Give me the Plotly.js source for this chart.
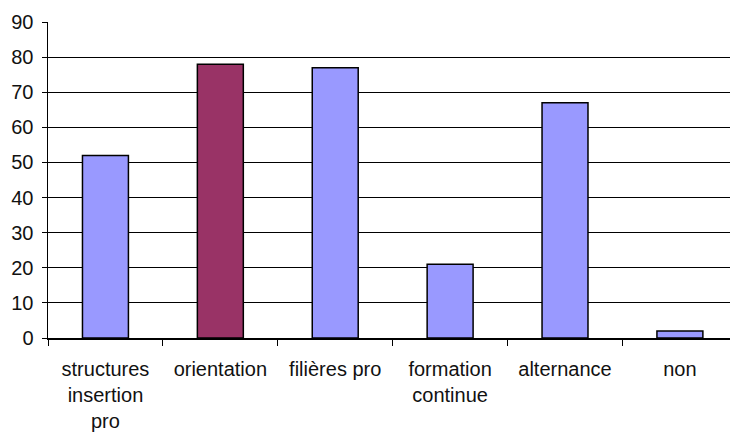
<!DOCTYPE html>
<html>
<head>
<meta charset="utf-8">
<script src="https://cdn.plot.ly/plotly-3.0.1.min.js"></script>
<style>html,body{margin:0;padding:0;overflow:hidden;background:#fff}</style>
</head>
<body>
<div id="chart" style="width:730px;height:433px"></div>
<script>
const categories = ["structures<br>insertion<br>pro", "orientation", "filières pro", "formation<br>continue", "alternance", "non"];
const values = [52, 78, 77, 21, 67, 2];
const barColors = ["#9999FF", "#993366", "#9999FF", "#9999FF", "#9999FF", "#9999FF"];

const trace = {
  type: "bar",
  x: categories,
  y: values,
  marker: {color: barColors, line: {color: "#000000", width: 1.5}},
  hoverinfo: "none"
};

const layout = {
  width: 730, height: 433,
  margin: {l: 48, r: 0, t: 22, b: 95, autoexpand: false},
  paper_bgcolor: "#ffffff", plot_bgcolor: "#ffffff",
  showlegend: false,
  bargap: 0.6,
  font: {family: "Liberation Sans, Arial, sans-serif", size: 20, color: "#000000"},
  xaxis: {
    type: "category",
    range: [-0.5, 5.436],
    tickson: "boundaries",
    ticks: "outside", ticklen: 6, tickcolor: "#000000", tickwidth: 1,
    showline: true, linecolor: "#000000", linewidth: 1.5,
    showgrid: false, automargin: false,
    ticklabelstandoff: 12,
    tickfont: {size: 20, color: "#111111"}
  },
  yaxis: {
    range: [0, 90],
    tick0: 0, dtick: 10,
    ticks: "outside", ticklen: 5, tickcolor: "#000000", tickwidth: 1,
    showline: true, linecolor: "#000000", linewidth: 1.5,
    showgrid: true, gridcolor: "#000000", gridwidth: 1,
    zeroline: false, automargin: false,
    ticklabelstandoff: 4,
    tickfont: {size: 20, color: "#111111"}
  }
};

Plotly.newPlot("chart", [trace], layout, {staticPlot: true, displayModeBar: false});
</script>
</body>
</html>
